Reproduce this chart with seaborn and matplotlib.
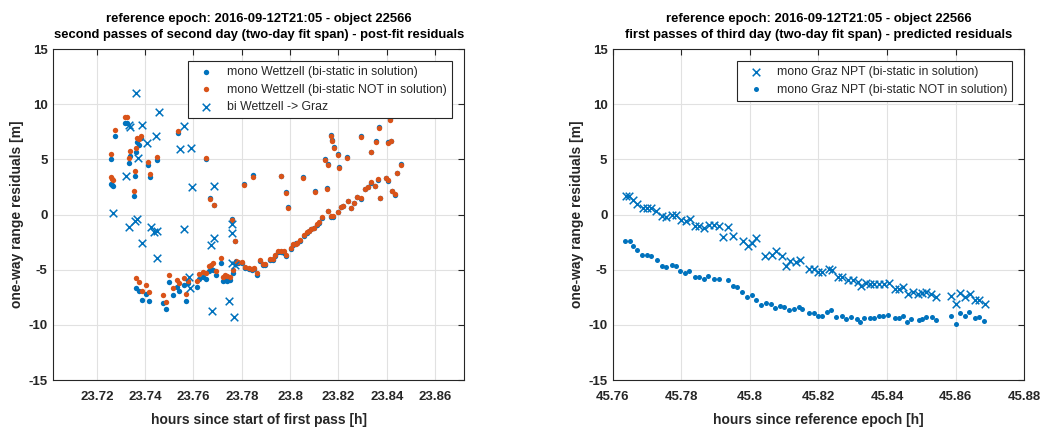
import numpy as np
import seaborn as sns
import matplotlib
matplotlib.use('Agg')
import matplotlib.pyplot as plt

# left panel: mono Wettzell residuals (two solutions) and bi-static Wettzell -> Graz
wtz_t = [23.7258, 23.7259, 23.7263, 23.7269, 23.7277, 23.7316, 23.7327, 23.7332, 23.7338, 23.7354,
         23.7359, 23.7361, 23.7363, 23.7366, 23.7374, 23.7374, 23.7382, 23.7388, 23.7403, 23.7411,
         23.7418, 23.7421, 23.7448, 23.7472, 23.7488, 23.7497, 23.7516, 23.7534, 23.7537, 23.7539,
         23.7561, 23.7570, 23.7579, 23.7614, 23.7622, 23.7639, 23.7651, 23.7652, 23.7665, 23.7669,
         23.7672, 23.7680, 23.7686, 23.7692, 23.7713, 23.7721, 23.7731, 23.7741, 23.7752, 23.7761,
         23.7763, 23.7772, 23.7777, 23.7786, 23.7802, 23.7808, 23.7815, 23.7828, 23.7843, 23.7847,
         23.7852, 23.7862, 23.7876, 23.7888, 23.7898, 23.7917, 23.7928, 23.7938, 23.7952, 23.7962,
         23.7964, 23.7973, 23.7982, 23.7984, 23.7992, 23.8003, 23.8014, 23.8023, 23.8030, 23.8043,
         23.8055, 23.8058, 23.8069, 23.8079, 23.8088, 23.8099, 23.8102, 23.8110, 23.8120, 23.8131,
         23.8143, 23.8152, 23.8155, 23.8159, 23.8168, 23.8168, 23.8175, 23.8179, 23.8182, 23.8199,
         23.8199, 23.8203, 23.8210, 23.8221, 23.8235, 23.8238, 23.8254, 23.8265, 23.8279, 23.8293,
         23.8293, 23.8309, 23.8323, 23.8337, 23.8337, 23.8351, 23.8355, 23.8362, 23.8366, 23.8373,
         23.8396, 23.8406, 23.8406, 23.8414, 23.8417, 23.8420, 23.8433, 23.8444, 23.8458]
wtz_res_in = [5.00, 2.79, 2.64, 2.55, 7.12, 8.30, 8.30, 4.70, 5.30, 1.70,
              3.48, -6.70, 5.67, 6.58, -6.97, 6.30, 6.90, -7.76, -7.20, 4.45,
              -7.80, 3.39, 4.90, -8.00, -8.60, -6.15, -7.30, -6.55, 7.39, -6.90,
              -6.36, -7.80, -6.24, -6.60, -5.85, -5.70, -5.82, 5.06, -5.10, 1.48,
              -4.94, -5.03, 0.88, -5.50, -4.40, -6.00, -5.95, -6.00, -5.95, -0.45,
              -5.30, -2.36, -4.42, -4.42, -4.40, 2.79, -4.85, -4.95, -5.00, 3.55,
              -4.90, -5.50, -4.25, -4.55, -4.55, -4.10, -4.10, -3.80, -3.40, -3.40,
              3.50, -3.45, 2.05, -3.75, 0.65, -3.10, -2.80, -2.55, -2.60, -2.40,
              3.40, -1.95, -1.65, -1.50, -1.35, -1.25, 2.10, -0.95, -0.75, -0.30,
              5.05, 2.40, 0.30, 4.60, 7.25, -0.20, 6.75, -0.20, 6.15, 5.45,
              0.25, 4.30, 0.65, 0.75, 5.20, 1.25, 0.60, 1.05, 1.55, 7.15,
              1.45, 2.30, 2.45, 5.70, 2.90, 2.55, 6.65, 3.15, 7.95, 1.50,
              3.30, 6.60, 3.05, 8.65, 6.70, 2.10, 1.80, 3.80, 4.55]
wtz_res_out = [5.50, 3.40, 3.25, 3.10, 7.64, 8.80, 8.80, 5.15, 5.73, 2.10,
               3.90, -5.79, 6.06, 6.94, -6.10, 6.80, 7.09, -6.90, -6.40, 4.76,
               -7.00, 3.70, 5.20, -7.30, -7.90, -5.45, -6.67, -5.90, 7.58, -6.24,
               -5.76, -7.20, -6.06, -6.06, -5.40, -5.18, -5.30, 5.10, -4.64, 1.42,
               -4.60, -4.42, 0.85, -5.10, -3.97, -5.64, -5.52, -5.55, -5.64, -0.50,
               -5.03, -2.40, -4.24, -4.27, -4.33, 2.65, -4.75, -4.85, -4.90, 3.39,
               -4.85, -5.30, -4.15, -4.45, -4.45, -4.00, -4.00, -3.70, -3.30, -3.30,
               3.45, -3.35, 1.95, -3.65, 0.55, -3.00, -2.70, -2.65, -2.55, -2.35,
               3.30, -1.90, -1.60, -1.45, -1.30, -1.20, 2.00, -0.90, -0.70, -0.25,
               4.95, 2.30, 0.36, 4.50, 7.15, -0.15, 6.65, -0.18, 6.05, 5.35,
               0.27, 4.20, 0.67, 0.76, 5.10, 1.27, 0.61, 1.06, 1.58, 7.05,
               1.48, 2.33, 2.48, 5.65, 2.94, 2.58, 6.55, 3.18, 7.85, 1.52,
               3.30, 6.50, 3.09, 8.55, 6.62, 2.12, 1.82, 3.79, 4.52]
bi_t = [23.7266, 23.7319, 23.7335, 23.7338, 23.7335, 23.7359, 23.7363, 23.7366, 23.7372, 23.7386,
        23.7389, 23.7407, 23.7425, 23.7435, 23.7444, 23.7448, 23.7451, 23.7458, 23.7545, 23.7559,
        23.7559, 23.7580, 23.7584, 23.7589, 23.7593, 23.7672, 23.7677, 23.7686, 23.7686, 23.7746,
        23.7759, 23.7760, 23.7760, 23.7767, 23.7770]
bi_res = [0.15, 3.45, 8.09, 7.95, -1.15, -0.55, 10.97, -0.39, 5.15, -2.60,
          8.09, 6.48, -1.15, -1.60, 7.12, -1.45, -3.94, 9.27, 5.97, 8.00,
          -1.30, -5.64, -6.64, 6.06, 2.48, -2.73, -8.73, 2.55, -2.12, -7.88,
          -0.90, -1.70, -4.42, -9.27, -4.60]

# right panel: mono Graz NPT predicted residuals
graz_in_t = [45.7637, 45.7647, 45.7659, 45.7671, 45.7688, 45.7700, 45.7712, 45.7727, 45.7742, 45.7756,
             45.7771, 45.7784, 45.7800, 45.7813, 45.7824, 45.7839, 45.7852, 45.7865, 45.7881, 45.7895,
             45.7909, 45.7922, 45.7937, 45.7949, 45.7981, 45.7993, 45.8005, 45.8018, 45.8044, 45.8064,
             45.8076, 45.8093, 45.8106, 45.8117, 45.8135, 45.8147, 45.8173, 45.8187, 45.8200, 45.8210,
             45.8231, 45.8239, 45.8256, 45.8270, 45.8285, 45.8300, 45.8314, 45.8324, 45.8339, 45.8350,
             45.8363, 45.8378, 45.8392, 45.8405, 45.8422, 45.8435, 45.8446, 45.8461, 45.8475, 45.8490,
             45.8503, 45.8514, 45.8529, 45.8542, 45.8587, 45.8600, 45.8612, 45.8628, 45.8641, 45.8656,
             45.8670, 45.8685]
graz_in_res = [1.67, 1.67, 1.36, 0.97, 0.61, 0.61, 0.61, 0.30, -0.15, -0.24,
               0.00, -0.06, -0.52, -0.61, -0.45, -1.00, -1.00, -1.21, -0.91, -0.97,
               -1.06, -2.06, -1.12, -1.91, -2.42, -2.88, -2.58, -2.12, -3.73, -3.64,
               -3.27, -3.73, -4.70, -4.24, -4.33, -4.15, -4.95, -4.95, -5.25, -5.25,
               -4.95, -5.04, -5.65, -5.70, -5.95, -5.95, -6.16, -6.46, -6.25, -6.31,
               -6.31, -6.31, -6.31, -6.25, -6.76, -6.76, -6.61, -7.21, -7.06, -7.21,
               -7.15, -7.06, -7.21, -7.51, -7.42, -8.11, -7.15, -7.51, -7.21, -7.75,
               -7.75, -8.11]
graz_out_t = [45.7634, 45.7649, 45.7659, 45.7671, 45.7686, 45.7700, 45.7712, 45.7729, 45.7742, 45.7756,
              45.7771, 45.7784, 45.7797, 45.7810, 45.7823, 45.7839, 45.7852, 45.7865, 45.7878, 45.7895,
              45.7909, 45.7937, 45.7950, 45.7963, 45.7978, 45.7992, 45.8005, 45.8018, 45.8032, 45.8046,
              45.8060, 45.8073, 45.8087, 45.8100, 45.8114, 45.8128, 45.8143, 45.8153, 45.8171, 45.8187,
              45.8200, 45.8210, 45.8226, 45.8236, 45.8251, 45.8268, 45.8280, 45.8295, 45.8311, 45.8322,
              45.8334, 45.8350, 45.8363, 45.8376, 45.8387, 45.8402, 45.8422, 45.8435, 45.8446, 45.8459,
              45.8470, 45.8492, 45.8503, 45.8514, 45.8531, 45.8544, 45.8587, 45.8600, 45.8612, 45.8628,
              45.8639, 45.8656, 45.8670, 45.8683]
graz_out_res = [-2.42, -2.42, -2.82, -3.24, -3.64, -3.70, -3.79, -4.09, -4.64, -4.76,
                -4.55, -4.64, -5.15, -5.30, -5.15, -5.70, -5.70, -5.85, -5.61, -5.82,
                -5.82, -5.94, -6.45, -6.60, -7.05, -7.45, -7.30, -7.75, -8.20, -8.05,
                -8.15, -8.45, -8.25, -8.40, -8.65, -8.55, -8.35, -8.56, -8.95, -8.95,
                -9.16, -9.16, -8.86, -8.65, -9.31, -9.22, -9.46, -9.31, -9.46, -9.70,
                -9.40, -9.40, -9.40, -9.22, -9.22, -9.07, -9.40, -9.40, -9.22, -9.70,
                -9.46, -9.55, -9.46, -9.31, -9.31, -9.52, -9.22, -9.91, -8.95, -9.22,
                -8.86, -9.40, -9.25, -9.61]

left_ticks = [23.72, 23.74, 23.76, 23.78, 23.80, 23.82, 23.84, 23.86]
left_ticklabels = ['23.72', '23.74', '23.76', '23.78', '23.8', '23.82', '23.84', '23.86']
right_ticks = [45.76, 45.78, 45.80, 45.82, 45.84, 45.86, 45.88]
right_ticklabels = ['45.76', '45.78', '45.8', '45.82', '45.84', '45.86', '45.88']
y_ticks = [-15, -10, -5, 0, 5, 10, 15]

blue = '#0072BD'
orange = '#D95319'
edge = '#262626'

sns.set_style('whitegrid')
plt.rcParams['font.family'] = ['Liberation Sans', 'DejaVu Sans']

fig = plt.figure(figsize=(10.43, 4.28), dpi=100)
ax1 = fig.add_axes([0.0511, 0.1121, 0.3938, 0.7734])
ax2 = fig.add_axes([0.5877, 0.1121, 0.3941, 0.7734])

sns.scatterplot(x=wtz_t, y=wtz_res_in, ax=ax1, color=blue, s=15, linewidth=0,
                label='mono Wettzell (bi-static in solution)')
sns.scatterplot(x=wtz_t, y=wtz_res_out, ax=ax1, color=orange, s=15, linewidth=0,
                label='mono Wettzell (bi-static NOT in solution)')
sns.scatterplot(x=bi_t, y=bi_res, ax=ax1, color=blue, marker='x', s=30, linewidth=1.1,
                label='bi Wettzell -> Graz')

sns.scatterplot(x=graz_in_t, y=graz_in_res, ax=ax2, color=blue, marker='x', s=30, linewidth=1.1,
                label='mono Graz NPT (bi-static in solution)')
sns.scatterplot(x=graz_out_t, y=graz_out_res, ax=ax2, color=blue, s=13, linewidth=0,
                label='mono Graz NPT (bi-static NOT in solution)')

setup = [
    (ax1, (23.702, 23.872), left_ticks, left_ticklabels,
     'reference epoch: 2016-09-12T21:05 - object 22566\n'
     'second passes of second day (two-day fit span) - post-fit residuals',
     'hours since start of first pass [h]'),
    (ax2, (45.76, 45.88), right_ticks, right_ticklabels,
     'reference epoch: 2016-09-12T21:05 - object 22566\n'
     'first passes of third day (two-day fit span) - predicted residuals',
     'hours since reference epoch [h]'),
]
for ax, xlim, ticks, labels, title, xlabel in setup:
    ax.set_xlim(*xlim)
    ax.set_ylim(-15, 15)
    ax.set_xticks(ticks)
    ax.set_xticklabels(labels, fontweight='bold', fontsize=9.5, color=edge)
    ax.set_yticks(y_ticks)
    ax.set_yticklabels([str(v) for v in y_ticks], fontweight='bold', fontsize=9.5, color=edge)
    ax.tick_params(direction='in', top=True, right=True, length=4, width=0.8, color=edge)
    ax.tick_params(axis='x', pad=8)
    ax.tick_params(axis='y', pad=4)
    ax.grid(True, color='#e1e1e1', linewidth=0.8)
    ax.set_axisbelow(True)
    for sp in ax.spines.values():
        sp.set_color(edge)
        sp.set_linewidth(0.8)
    ax.set_title(title, fontweight='bold', fontsize=9.35, pad=8, color='black', linespacing=1.4)
    ax.set_xlabel(xlabel, fontweight='bold', fontsize=10, labelpad=7, color=edge)
    ax.set_ylabel('one-way range residuals [m]', fontweight='bold', fontsize=10, labelpad=3, color=edge)
    leg = ax.legend(loc='upper right', fontsize=8.8, frameon=True, fancybox=False, framealpha=1,
                    edgecolor=edge, borderaxespad=1.0, handlelength=2.2, handletextpad=0.6,
                    labelspacing=0.45, borderpad=0.4)
    leg.get_frame().set_linewidth(0.8)

fig.savefig('out.png', dpi=100)
